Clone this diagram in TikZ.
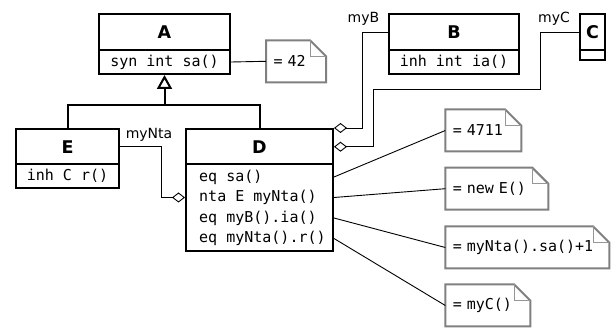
\documentclass[tikz,border=0pt]{standalone}
\usepackage{fontspec}
\setmainfont{DejaVu Sans}
\setmonofont{DejaVu Sans Mono}
\usetikzlibrary{arrows.meta,calc}
\definecolor{notegray}{RGB}{128,128,128}
\definecolor{foldgray}{RGB}{150,150,150}
\newcommand\drawnotebox[1]{%
  \draw[noteline] (#1.south west) -- (#1.north west) -- ([xshift=-16pt]#1.north east)
    -- ([yshift=-16pt]#1.north east) -- (#1.south east) -- cycle;
  \draw[foldline] ([xshift=-16pt]#1.north east) |- ([yshift=-16pt]#1.north east);}
\begin{document}
\begin{tikzpicture}[x=1pt,y=-1pt,
  box/.style={draw=black, line width=2pt, inner sep=0pt},
  ttl/.style={box, font=\fontsize{17.5}{20}\selectfont\bfseries},
  attr/.style={box, font=\fontsize{15}{18}\selectfont\ttfamily},
  mono/.style={inner sep=0pt, font=\fontsize{15}{18}\selectfont\ttfamily, anchor=west},
  lbl/.style={inner sep=0pt, font=\fontsize{14}{16}\selectfont, anchor=base},
  note/.style={inner xsep=7.5pt, inner ysep=0pt, minimum height=42pt, outer sep=0pt,
    anchor=west, align=left, font=\fontsize{15}{18}\selectfont\ttfamily},
  noteline/.style={draw=notegray, line width=2pt, line join=miter},
  foldline/.style={draw=foldgray, line width=1pt},
  conn/.style={draw=black, line width=0.9pt},
  agg/.style={conn, -{Diamond[open, length=13pt, width=10pt]}},
  inhline/.style={draw=black, line width=2pt},
]
\useasboundingbox (0,0) rectangle (611,328);

% class A
\node[ttl, minimum width=131pt, minimum height=36pt] (At) at (164.5,32) {A};
\node[attr, minimum width=131pt, minimum height=24pt] (Aa) at (164.5,62) {syn int sa()};
% class B
\node[ttl, minimum width=130pt, minimum height=36pt] (Bt) at (454,32) {B};
\node[attr, minimum width=130pt, minimum height=24pt] (Ba) at (454,62) {inh int ia()};
% class C
\node[ttl, minimum width=25pt, minimum height=36pt] (Ct) at (592.5,32) {C};
\node[attr, minimum width=25pt, minimum height=10pt] (Ca) at (592.5,55) {};
% class E
\node[ttl, minimum width=103pt, minimum height=35.5pt] (Et) at (67.5,146.75) {E};
\node[attr, minimum width=103pt, minimum height=23.5pt] (Ea) at (67.5,176.25) {inh C r()};
% class D
\node[ttl, minimum width=147pt, minimum height=35.5pt] (Dt) at (259.5,146.75) {D};
\node[box, minimum width=147pt, minimum height=86.5pt] (Da) at (259.5,207.75) {};
\node[mono] (l1) at (199,177) {eq sa()};
\node[mono] (l2) at (199,197.5) {nta E myNta()};
\node[mono] (l3) at (199,218) {eq myB().ia()};
\node[mono] (l4) at (199,238.5) {eq myNta().r()};

% notes
\node[note, text width=45pt] (n0) at (266,61.3) {= 42};
\node[note, text width=61pt] (n1) at (445.3,130.5) {= 4711};
\node[note, text width=88pt] (n2) at (445.3,188.7) {= new E()};
\node[note, text width=149pt] (n3) at (445.3,247.5) {= myNta().sa()+1};
\node[note, text width=70pt] (n4) at (445.3,305.5) {= myC()};
\drawnotebox{n0}
\drawnotebox{n1}
\drawnotebox{n2}
\drawnotebox{n3}
\drawnotebox{n4}

% note connectors
\draw[conn] (Aa.east) -- (n0.west);
\draw[conn] (Da.east |- l1) -- (n1.west);
\draw[conn] (Da.east |- l2) -- (n2.west);
\draw[conn] (Da.east |- l3) -- (n3.west);
\draw[conn] (Da.east |- l4) -- (n4.west);

% inheritance
\coordinate (bar) at (164.5,105);
\draw[inhline] (Et.north) |- (bar) -| (Dt.north);
\draw[inhline, -{Triangle[open, length=14pt, width=15pt]}] (bar) -- (Aa.south);

% associations
\coordinate (kC) at (540,89);
\draw[agg] (Bt.west) -| ($(Dt.north east)+(28,0)$) -- (Dt.north east);
\draw[agg] (Ct.west) -| (kC) -| ($(Dt.east)+(39,0)$) -- (Dt.east);
\draw[agg] (Et.east) -| ($(Da.west |- l2)+(-24,0)$) -- (Da.west |- l2);

% labels
\node[lbl] (lB) at (363.5,23) {myB};
\node[lbl] (lC) at (554,23) {myC};
\node[lbl] (lN) at (149,138.5) {myNta};
\end{tikzpicture}
\end{document}
